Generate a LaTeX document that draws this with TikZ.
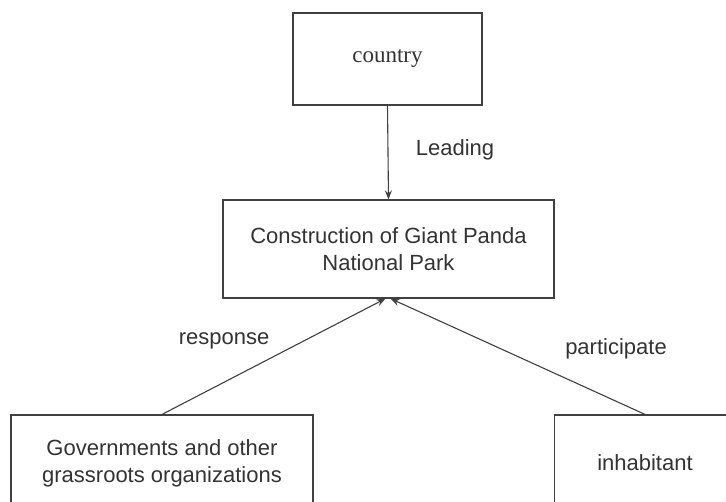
\documentclass[tikz,border=0pt]{standalone}
\usepackage{fontspec}
\setmainfont{Liberation Sans}
\newfontfamily\timesf{Liberation Serif}
\usetikzlibrary{arrows.meta}
\definecolor{ink}{HTML}{333333}
\definecolor{edge}{HTML}{404040}
\tikzset{
  box/.style={draw=edge, line width=1.2pt, fill=white, align=center, inner sep=0pt,
    text=ink, font=\fontsize{22}{27}\selectfont},
  conn/.style={draw=edge, line width=1.1pt, -{Stealth[length=9pt,width=7pt]}},
  lbl/.style={text=ink, font=\fontsize{22}{27}\selectfont, inner sep=0pt}
}
\begin{document}
\begin{tikzpicture}[x=1pt,y=-1pt]
\useasboundingbox (0,0) rectangle (726,501);
\fill[white] (0,0) rectangle (726,501);
\begin{scope}
\clip (0,0) rectangle (726,501);
\node[box, minimum width=189pt, minimum height=92pt, font=\timesf\fontsize{23}{27}\selectfont] (country) at (387.5,59) {country};
\node[box, minimum width=331pt, minimum height=98pt] (park) at (388.5,249) {Construction of Giant Panda\\National Park};
\node[box, minimum width=302pt, minimum height=96pt] (gov) at (162,463) {Governments and other\\grassroots organizations};
\node[box, minimum width=240pt, minimum height=96pt, anchor=west] (inh) at (554,463) {};
\node[lbl] (inhtext) at (645,463) {inhabitant};
\draw[conn] (country.south) -- (park.north);
\draw[conn] (gov.north) -- ([xshift=-3pt]park.south);
\draw[conn] (inh.north west -| inhtext.north) -- ([xshift=2pt]park.south);
\node[lbl] (lead) at (455,150) {Leading};
\node[lbl] (resp) at (224,341) {response};
\node[lbl] (part) at (616,349) {participate};
\end{scope}
\end{tikzpicture}
\end{document}
